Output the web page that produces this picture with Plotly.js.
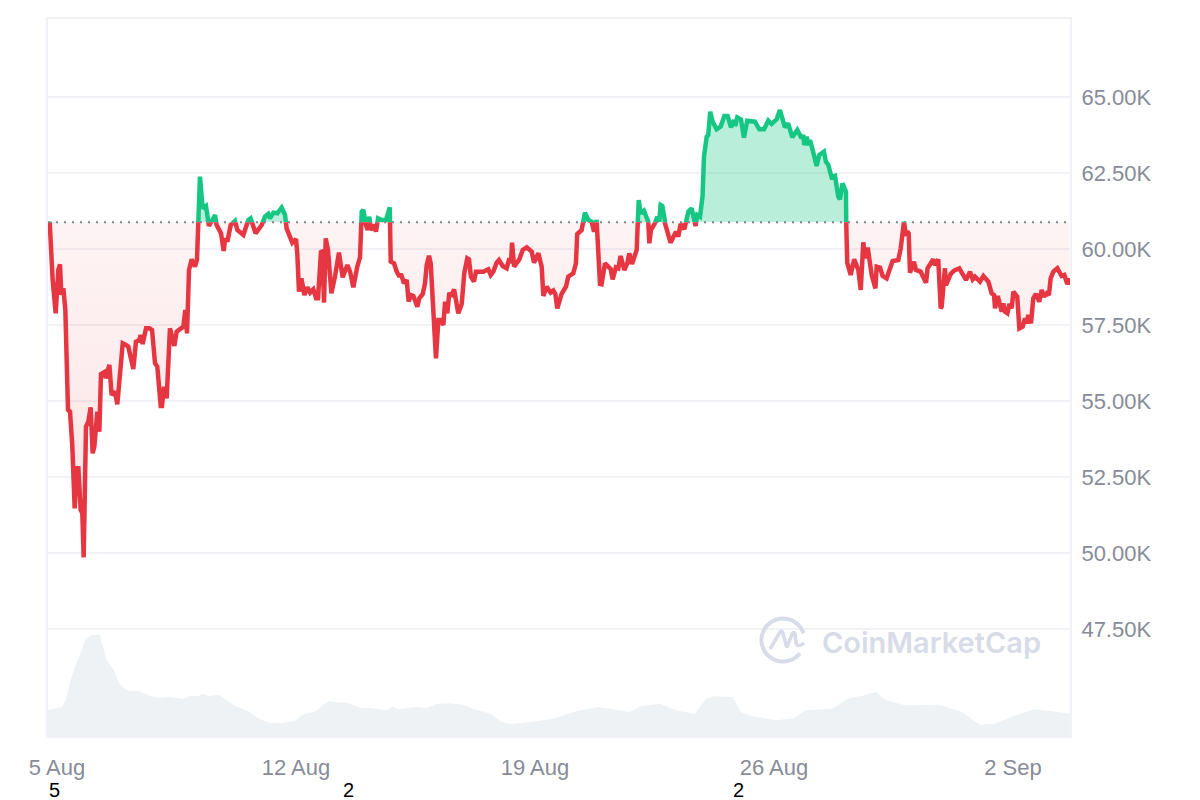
<!DOCTYPE html>
<html><head><meta charset="utf-8">
<script src="https://cdn.plot.ly/plotly-3.0.1.min.js"></script>
<style>html,body{margin:0;padding:0;background:#fff}#c{width:1200px;height:800px}</style>
</head><body><div id="c"></div>
<script>
const hours=[-5.15,-4.2,-3.05,-0.94,0.94,2.1,3.05,4.45,5.86,7.73,9.14,10.78,12.42,13.82,15,16.63,17.8,18.74,20.38,22.02,23.66,25.07,26.24,28.35,29.75,30.93,33.74,34.2,36.8,38.4,40.8,42.4,44.3,46.2,48.5,50.1,53.65,55.5,57.9,58.8,60.2,62.6,64.9,66.8,68.9,70.5,72.9,73.8,75.2,77.1,79.4,82.5,84.1,88.8,90.2,91.4,92.8,94.7,97,98.4,99.35,100.5,102.4,104.7,106.8,108.7,111.1,112.2,115.3,117.15,118.1,120,122.1,125.1,126.8,131,134.5,136.1,139.6,143.9,146.2,148.5,149.7,152.1,154.9,157.9,160.3,161.4,163.8,165.4,168,168.9,170.1,
171.8,173.9,176,177.9,180.2,182.1,183.5,185.6,186.5,187.7,188.9,190.5,192.9,195.4,198.2,200.8,204.1,206,208.3,211.1,213,214.2,215.3,217.2,218.4,219.6,220.5,223.1,224.2,225.7,228.2,231.3,233.9,234.6,236.9,238.8,240.7,241.8,243.9,245.8,247.2,248.6,250.5,253.3,254.7,257.1,258.7,259.9,261.5,262.7,264.5,266.4,268.1,269.7,271.6,272.8,274.4,275.8,277.4,279.1,282.1,284.5,286.3,288.4,289.6,291,293.1,294.5,299.7,303.2,304.9,306.7,309.1,310.7,313.3,316.1,318,319.1,319.9,321.3,325,327.4,330.2,333.7,335.3,338.4,340.7,341.9,344.2,347,348.9,350.3,351.7,
354.7,357.8,359.4,362.9,364.8,365.7,368.8,371.1,373.5,375.8,377.5,379.3,380.5,381.7,382.8,385.2,387.5,389.2,390.6,392.9,394.6,396.2,398.8,400.9,402.3,404.2,407.5,408.9,410.3,412.6,415.6,416.4,417.5,420.3,422,423.4,424.3,425.5,426.7,428.5,431.3,435.1,436.7,438.4,441,443.8,446.1,448.9,450.1,452,453.8,454.8,456.7,457.8,459.2,460.9,463.7,466.5,469.1,471.4,473.8,475.9,476.8,478.2,480.8,482.9,485.2,490.6,493.7,497,500,502.3,505.9,508.2,511.7,514,516.9,520.4,523.4,524.6,525.3,527,528.1,529.3,531.2,534,535.8,539.1,540.5,542.2,544.5,546.9,549.2,550.4,552.2,554.6,554.8,555.5,557.9,560.4,563.3,565,566.8,568,569.9,572.7,575.3,576.2,578.5,580.4,583.2,585.1,587.4,591.4,593.1,595.4,596.8,597.8,598.7,599.6,602.4,603.8,607.1,610.9,612,616,617.2,619.5,621.2,621.9,624.2,624.9,628.2,630.6,634.3,639,641.8,643.7,645.3,648.8,651.2,654.7,657,658.7,659.4,661.3,664.1,665.2,666.4,668.1,669.5,671.1,672.3,675,676.5,678.8,680.5,681.6,682.8,684.7,686.3,688.2,690.5,692.2,693.8,695.7,697.3,698.5,700.4,703.2,706.2,708.1,710.2,711.4,711.6];
const prices=[60900,59860,58980,57885,59310,59497,58488,58707,57995,54706,54650,53500,51470,52787,52787,51417,51307,49860,54158,54322,54793,53280,53500,54650,53993,55890,55966,55747,56186,55199,55309,54892,56131,56898,56843,56789,56054,56953,57008,57172,56876,57392,57392,57337,56240,56131,54837,54837,55473,55089,57392,56810,57282,57446,57995,57227,59310,59661,59420,59639,60900,62380,61338,61415,60757,60900,61119,60790,60516,59935,60297,60297,60790,60922,60626,60461,60955,61009,60516,60790,61064,61152,61009,61196,61174,61360,61119,60680,60407,60209,60330,59860,58597,
59036,58488,58740,58565,58674,58378,58378,59946,59913,58236,60351,59968,58543,59091,59880,59069,59475,59255,58740,59420,59727,61229,61283,60790,60626,61064,60626,60790,60571,61009,60955,60955,61371,59584,59529,59255,59091,59178,58872,58981,58269,58488,58455,58104,58378,58521,58872,59475,59781,59529,57995,56405,57666,57666,57501,58269,57885,58565,58433,58674,57885,58192,59201,59694,59661,59091,58926,59255,59255,59332,59146,59255,59551,59639,59442,59365,59694,59529,60209,59420,59661,59968,60055,59913,59551,59858,59420,58455,58762,58565,58631,58521,58049,
58521,58762,59091,59200,59529,60494,60626,61196,60954,60900,60571,60954,59749,58850,58838,59529,59420,59343,59003,59398,59365,59770,59310,59529,59858,59507,59968,61612,61174,61261,60900,60187,60626,60845,61064,60900,61448,61415,60954,60626,60209,60571,60406,60823,60648,61229,61338,60757,61119,61064,61744,63037,63695,63750,64517,64188,63936,64024,64375,64375,64002,64243,64046,64331,64265,63662,64221,64188,63936,63936,64221,64112,64265,64572,64002,64134,63673,63914,63640,63750,63421,63695,63421,63586,63257,62730,63092,63202,62873,62763,62358,62402,61722,61634,62160,61886,60878,59551,59145,59661,59310,58652,60220,59694,60044,59145,58707,59419,59386,59112,59036,59255,59606,59639,60022,60899,60428,60570,60516,59222,59584,59310,59255,58893,59365,59661,59474,59661,58049,58104,59365,58816,59178,59288,59365,58981,59255,59003,59090,58926,59112,58926,58542,58487,58049,58455,57939,58213,57939,57884,58192,58049,58597,58433,57391,57446,57720,57556,57830,57556,58378,58520,58268,58652,58433,58542,58487,59036,59255,59365,59112,59145,58849,59036,58816];
const volHours=[-7,3.6,6.1,8.6,12.4,16.2,19.9,23.7,30,32.5,35,40,43.8,47.6,51.3,57.6,63.9,71.4,78.9,89,94,100.3,102,106.6,114.1,119.1,125.4,134.2,141.7,149.2,159.3,168.1,171.9,181.9,190.7,194.5,204.5,213.3,219.6,232.1,235.9,239.7,252.2,259.8,267.3,274.8,286.1,292.4,304.9,312.5,318.8,332.6,348.9,358.9,367.7,381.1,402.6,410.7,424.1,434.9,448.3,456.3,461.7,475.1,480.5,488.6,506,518.1,526.2,545,555.7,569.1,575.9,582.6,596,620.2,636.3,648.4,659.1,676.6,687.3,712.8];
const volumes=[25.7,29,35.7,50.7,69,80.7,97.3,100.7,101.3,89,75.7,65.7,52.3,47.3,45,45,40.7,38.3,39,37.3,40,40,42.3,40,41.3,35.7,30,25,17.3,13.3,13,15.7,20.7,24.7,35,34,33.3,28,28,25.7,30,26.7,29,28,32.3,32.7,31.3,27.3,22.3,14,12,14,17.3,22.3,25.7,29,24,30,32.3,25.7,22.3,37.3,39.7,39,24,20,15.7,18,25.7,27.3,37.3,41.3,44,35.7,30.7,31.3,24,11.3,12.3,22.3,26.7,22.3];
const yTicks=[47500,50000,52500,55000,57500,60000,62500,65000];
const yLabels=["47.50K","50.00K","52.50K","55.00K","57.50K","60.00K","62.50K","65.00K"];
const xTickDates=["2024-08-05","2024-08-12","2024-08-19","2024-08-26","2024-09-02"];
const xLabels=["5 Aug","12 Aug","19 Aug","26 Aug","2 Sep"];
const basePrice=60880;

const RED='#e63641',GREEN='#16c784',GRID='#f0f2f5',VOL='#eff2f4',GREY='#878c98',MARK='#d8dce8';
const yMin=43983,yMax=67565;
const W=1200,H=800,L=48,R=130,T=19,B=64;
const t=h=>new Date(Date.UTC(2024,7,5)+h*3600e3).toISOString();
const X=hours.map(t), XV=volHours.map(t);
const xStart=t(-6.33), xEnd=t(712.1);
const ends=[X[0],X[X.length-1]], baseY=[basePrice,basePrice];
const split=(basePrice-yMin)/(yMax-yMin);
const px=x=>(x-L)/(W-L-R), py=y=>1-(y-T)/(H-T-B);

const line=c=>({color:c,width:4.5,shape:'linear'});
const traces=[
 {x:[xStart,xEnd],y:baseY,xaxis:'x',yaxis:'y',mode:'lines',line:{width:0},hoverinfo:'skip'},
 {x:XV,y:volumes,xaxis:'x',yaxis:'y4',mode:'lines',line:{width:0,color:VOL},fill:'tozeroy',fillcolor:VOL,hoverinfo:'skip'},
 {x:ends,y:baseY,xaxis:'x',yaxis:'y2',mode:'lines',line:{width:0},hoverinfo:'skip'},
 {x:X,y:prices,xaxis:'x',yaxis:'y2',mode:'lines',line:line(GREEN),fill:'tonexty',fillcolor:'rgba(22,199,132,0.30)'},
 {x:ends,y:baseY,xaxis:'x',yaxis:'y3',mode:'lines',line:{width:0},hoverinfo:'skip'},
 {x:X,y:prices,xaxis:'x',yaxis:'y3',mode:'lines',line:line(RED),fill:'tonexty',
  fillgradient:{type:'vertical',colorscale:[[0,'rgba(234,57,67,0.14)'],[1,'rgba(234,57,67,0.03)']]}},
 {x:[xStart,xEnd],y:baseY,xaxis:'x',yaxis:'y5',mode:'lines',line:{color:'#7f8590',width:2,dash:'2px,6px'},hoverinfo:'skip'}
];
// CoinMarketCap mark, drawn in page pixels
let ring='';
for(let a=38;a<=345;a+=8){const r=a*Math.PI/180;ring+=(ring?'L':'M')+px(783+21.5*Math.cos(r))+' '+py(640+21.5*Math.sin(r))+' ';}
const P=(a,b)=>px(a)+' '+py(b);
const em='M'+P(770,649)+' L'+P(780,632)+' Q'+P(782,630)+' '+P(783,633)+' L'+P(786,645)+' Q'+P(787,648)+' '+P(788,645)+' L'+P(792,634)+' Q'+P(794,631)+' '+P(795,634)+' L'+P(796,643)+' Q'+P(798,648)+' '+P(804,643);
const ann=(x,y,text,size,color,extra)=>Object.assign({xref:'paper',yref:'paper',x:px(x),y:py(y),text,showarrow:false,xanchor:'center',yanchor:'middle',font:{size,color,family:'"Liberation Sans",Arial,sans-serif'}},extra||{});

const layout={
 width:W,height:H,margin:{l:L,r:R,t:T,b:B,pad:0},paper_bgcolor:'#fff',plot_bgcolor:'rgba(0,0,0,0)',showlegend:false,
 font:{family:'"Liberation Sans",Arial,sans-serif',color:GREY,size:22},
 xaxis:{type:'date',range:[xStart,xEnd],tickmode:'array',tickvals:xTickDates,ticktext:xLabels,showgrid:false,zeroline:false,
   showline:true,mirror:true,linecolor:GRID,linewidth:2,ticks:'outside',ticklen:11,tickcolor:'rgba(0,0,0,0)',tickfont:{size:22,color:GREY}},
 yaxis:{range:[yMin,yMax],domain:[0,1],side:'right',anchor:'x',tickmode:'array',tickvals:yTicks,ticktext:yLabels,showgrid:true,gridcolor:GRID,gridwidth:2,zeroline:false,
   showline:true,mirror:true,linecolor:GRID,linewidth:2,ticks:'outside',ticklen:5,tickcolor:'rgba(0,0,0,0)',tickfont:{size:22,color:GREY}},
 yaxis2:{domain:[split,1],range:[basePrice,yMax],anchor:'x',visible:false},
 yaxis3:{domain:[0,split],range:[yMin,basePrice],anchor:'x',visible:false},
 yaxis4:{domain:[0,110/717],range:[0,110],anchor:'x',visible:false},
 yaxis5:{domain:[0,1],range:[yMin,yMax],anchor:'x',visible:false},
 shapes:[
  {type:'path',xref:'paper',yref:'paper',path:ring,line:{color:MARK,width:4},layer:'above'},
  {type:'path',xref:'paper',yref:'paper',path:em,line:{color:MARK,width:3.5},layer:'above'}
 ],
 annotations:[
  ann(931,642,'CoinMarketCap',29,MARK,{font:{size:29,color:MARK,family:'Inter, sans-serif',weight:600}}),
  ann(54,790,'5',20,'#000'),ann(348,790,'2',20,'#000'),ann(738,790,'2',20,'#000')
 ]
};
Plotly.newPlot('c',traces,layout,{displayModeBar:false,staticPlot:true});
</script></body></html>
